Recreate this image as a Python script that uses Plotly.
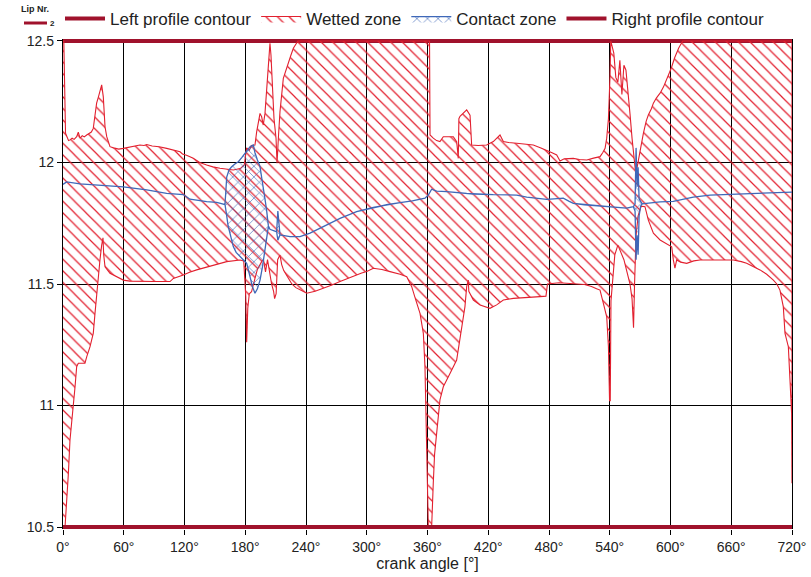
import plotly.graph_objects as go

# ---- crank angle axis ----
tick_deg = [0, 60, 120, 180, 240, 300, 360, 420, 480, 540, 600, 660, 720]
tick_text = [f"{d}°" for d in tick_deg]
y_ticks = [10.5, 11, 11.5, 12, 12.5]
y_tick_text = ["10.5", "11", "11.5", "12", "12.5"]

# ---- profile contours ----
contour_deg = [0, 720]
left_profile = [12.5, 12.5]
right_profile = [10.5, 10.5]

# ---- wetted zone: upper edge ----
wet_top_deg = [
    0, 0.8, 2.5, 3.6, 5.5, 6.9, 9, 11, 13.5, 15.1, 16.8, 19, 21, 23.4, 26, 28, 29.9,
    31.5, 33.2, 35, 36.5, 38.2, 39.8, 40.5, 41.5, 43.2, 46.4, 50, 55, 59.6, 65, 70,
    72.8, 76, 80, 82.7, 88, 95, 102.4, 110, 115.6, 118, 122, 128.7, 135, 141.9, 148,
    155.1, 162, 168.2, 175, 179, 181.4, 184, 186, 189.6, 191.3, 194.6, 196.2, 197.8,
    199.5, 201.2, 203.5, 204.4, 205.4, 206.7, 208.4, 210.4, 211.4, 212.7, 214.3,
    217.6, 220, 222.5, 225, 227.5, 230.8, 232, 362, 362.5, 365.7, 369, 372.3, 375.6,
    385.5, 388.8, 390.4, 391, 392.1, 398.7, 402, 403.6, 410, 418.4, 425, 428, 431.6,
    434.9, 440, 448.1, 456, 464.5, 472, 477.7, 483, 487.6, 489, 490.9, 495, 504, 510,
    517.3, 524, 530.4, 533, 535.4, 537, 538.7, 540.3, 541, 544, 546, 548, 550, 552,
    554, 556, 558, 560, 562, 564, 565.5, 567, 570, 573.2, 576, 578.1, 581, 583.1, 586,
    589.7, 593, 596.3, 599, 601.2, 604, 608, 612, 720,
]
wet_top_val = [
    12.5, 12.5, 12.12, 12.106, 12.09, 12.093, 12.1, 12.095, 12.106, 12.125, 12.1,
    12.11, 12.105, 12.113, 12.12, 12.125, 12.14, 12.2, 12.244, 12.27, 12.29, 12.319,
    12.27, 12.2, 12.147, 12.106, 12.065, 12.06, 12.055, 12.058, 12.062, 12.065, 12.068,
    12.072, 12.07, 12.074, 12.068, 12.065, 12.058, 12.05, 12.044, 12.035, 12.03,
    12.017, 12.0, 11.99, 11.982, 11.976, 11.972, 11.969, 11.975, 11.99, 12.06, 12.05,
    12.07, 12.072, 12.127, 12.202, 12.188, 12.154, 12.202, 12.319, 12.47, 12.49,
    12.442, 12.346, 12.18, 12.1, 11.997, 12.1, 12.209, 12.346, 12.38, 12.415, 12.44,
    12.47, 12.49, 12.5, 12.5, 12.113, 12.1, 12.09, 12.086, 12.106, 12.106, 12.086,
    12.017, 12.18, 12.19, 12.216, 12.195, 12.072, 12.07, 12.072, 12.086, 12.1, 12.113,
    12.086, 12.082, 12.079, 12.075, 12.072, 12.06, 12.051, 12.04, 12.031, 12.02,
    12.006, 12.015, 12.017, 12.012, 12.01, 12.018, 12.024, 12.04, 12.058, 12.1, 12.18,
    12.36, 12.5, 12.45, 12.35, 12.33, 12.42, 12.28, 12.4, 12.38, 12.3, 12.2, 12.1,
    12.0, 11.96, 11.98, 12.05, 12.12, 12.17, 12.195, 12.22, 12.244, 12.265, 12.285,
    12.31, 12.34, 12.37, 12.394, 12.43, 12.47, 12.5, 12.5,
]

# ---- wetted zone: lower edge ----
wet_bot_deg = [
    0, 2, 3.6, 5.3, 6.9, 8.6, 10.2, 11.9, 13.5, 15.1, 21.7, 23.4, 26.7, 29.9, 31.6,
    33.2, 34.9, 36.5, 38.2, 39.5, 40.2, 41.5, 46.4, 52, 56.3, 59.6, 66, 76, 90, 105.7,
    109, 118.8, 125, 132, 140, 148.5, 155, 161.7, 174.8, 178.5, 180.5, 181.4, 182.5,
    184, 186.2, 189.6, 192, 196.2, 198, 200, 202, 204, 206, 208, 209, 210.5, 212,
    214.3, 216, 218, 220.9, 226, 230, 234.1, 240.7, 249, 257.1, 265, 273.6, 285, 295,
    300, 306.5, 315, 323, 333, 339.5, 344.4, 348, 352.6, 355.9, 357.5, 359.2, 359.8,
    360.8, 364.1, 365.7, 367, 369, 372.3, 375.6, 382.2, 388.8, 392.1, 395.4, 397,
    398.7, 400.3, 400.8, 402, 405.3, 411.9, 421.7, 428.3, 434.9, 444.8, 458, 471.1,
    477, 478.5, 490, 505, 515, 522, 527, 530.4, 533.7, 537, 538.7, 539.8, 540.5,
    541.2, 543, 545, 548, 551, 554, 557, 560, 562, 563.5, 564.5, 566, 568, 571, 574.8,
    578.1, 583.1, 589.7, 596, 601.2, 602.8, 604.4, 606.1, 610, 616, 623, 629.1, 640,
    648.9, 662, 670, 675.2, 682, 688.4, 695, 701.6, 705, 708.1, 711.4, 713.1, 716.4,
    718, 719.6, 719.8, 720,
]
wet_bot_val = [
    10.5, 10.5, 10.597, 10.72, 10.858, 10.94, 10.995, 11.077, 11.16, 11.174, 11.174,
    11.2, 11.242, 11.297, 11.379, 11.475, 11.53, 11.599, 11.66, 11.69, 11.62, 11.571,
    11.544, 11.53, 11.523, 11.516, 11.512, 11.51, 11.51, 11.51, 11.523, 11.537,
    11.548, 11.558, 11.568, 11.578, 11.585, 11.592, 11.599, 11.595, 11.45, 11.26,
    11.4, 11.46, 11.468, 11.523, 11.56, 11.592, 11.6, 11.55, 11.6, 11.56, 11.5,
    11.47, 11.44, 11.46, 11.6, 11.619, 11.58, 11.555, 11.537, 11.5, 11.485, 11.475,
    11.462, 11.47, 11.482, 11.495, 11.51, 11.53, 11.545, 11.551, 11.565, 11.56,
    11.551, 11.54, 11.53, 11.489, 11.44, 11.379, 11.297, 11.16, 10.913, 10.748, 10.5,
    10.5, 10.68, 10.8, 10.886, 11.023, 11.077, 11.132, 11.187, 11.27, 11.365, 11.407,
    11.489, 11.516, 11.47, 11.462, 11.434, 11.414, 11.4, 11.414, 11.434, 11.441,
    11.445, 11.448, 11.45, 11.5, 11.505, 11.5, 11.498, 11.49, 11.48, 11.475, 11.42,
    11.365, 11.242, 11.02, 11.02, 11.43, 11.52, 11.62, 11.66, 11.63, 11.6, 11.55,
    11.5, 11.44, 11.32, 11.5, 11.7, 11.78, 11.82, 11.818, 11.763, 11.709, 11.681,
    11.665, 11.653, 11.599, 11.565, 11.599, 11.59, 11.585, 11.595, 11.599, 11.6,
    11.599, 11.599, 11.592, 11.585, 11.572, 11.558, 11.54, 11.516, 11.5, 11.475,
    11.407, 11.297, 11.242, 11.105, 10.968, 10.776, 10.68,
]

# ---- contact zone: centre line where both edges coincide ----
contact_mid_deg = [
    0, 3.6, 16.8, 40, 59.6, 82.7, 102.4, 118.8, 125.4, 141.9, 151.8, 160,
    204.4, 211, 214.3, 224.2, 234.1, 244, 257.1, 273.6, 290, 306.5, 319.7, 332.9,
    345, 357.5, 360.8, 364.1, 369, 378.9, 398.7, 405.3, 425, 448.1, 458, 477.7, 485,
    494.1, 500, 504, 515, 530.4, 540.3, 550.1, 556.7, 563.3,
    572, 576.4, 589.7, 602.8, 612, 622.5, 639, 662, 688.4, 720,
]
contact_mid_val = [
    11.91, 11.92, 11.912, 11.905, 11.9, 11.887, 11.873, 11.868, 11.849, 11.839,
    11.836, 11.827,
    11.725, 11.715, 11.702, 11.695, 11.695, 11.709, 11.736, 11.77, 11.798, 11.815,
    11.826, 11.835, 11.842, 11.853, 11.866, 11.89, 11.882, 11.88, 11.873, 11.87,
    11.868, 11.866, 11.857, 11.848, 11.85, 11.853, 11.84, 11.832, 11.826, 11.82,
    11.818, 11.814, 11.812, 11.818,
    11.83, 11.832, 11.838, 11.84, 11.848, 11.857, 11.866, 11.87, 11.873, 11.878,
]

# ---- contact zone: upper edge where it opens up ----
contact_top_deg = [
    161.7, 164, 166.6, 170, 173.2, 176.5, 179.8, 182, 184.7, 188, 189.6, 192,
    194.6, 196.5, 197.8, 199.5, 201.2, 202.8,
    212.2,
    565, 566, 567, 568, 569, 570.5,
]
contact_top_val = [
    11.94, 11.97, 11.983, 11.995, 12.003, 12.02, 12.038, 12.05, 12.065, 12.072,
    12.04, 12.01, 11.983, 11.93, 11.9, 11.85, 11.8, 11.74,
    11.8,
    11.83, 12.06, 11.9, 11.98, 11.85, 11.84,
]

# ---- contact zone: lower edge where it opens up ----
contact_bot_deg = [
    161.7, 163, 164.9, 168.2, 171, 174.8, 178, 181.4, 184.7, 187, 189.6, 192,
    194.6, 197, 199.5, 201.2, 202.8,
    212.2,
    565, 566, 567, 568, 569, 570.5,
]
contact_bot_val = [
    11.78, 11.74, 11.709, 11.654, 11.63, 11.612, 11.6, 11.585, 11.53, 11.49, 11.462,
    11.48, 11.516, 11.57, 11.626, 11.69, 11.736,
    11.68,
    11.8, 11.6, 11.7, 11.62, 11.78, 11.82,
]

RED = "#e2202f"
BLUE = "#3f68b8"
DARK_RED = "#a0122c"
FONT = "Liberation Sans, Arial, sans-serif"

# plot-area geometry in pixels (used for the corner caption)
L, T, W, H = 63, 39, 729, 490


def merge(deg_a, val_a, deg_b, val_b):
    pts = sorted(zip(deg_a + deg_b, val_a + val_b), key=lambda p: p[0])
    return [p[0] for p in pts], [p[1] for p in pts]


def band(top_deg, top_val, bot_deg, bot_val):
    # closed outline: upper edge left->right, lower edge right->left
    return top_deg + bot_deg[::-1], top_val + bot_val[::-1]


def px(x):
    return (x - L) / W


def py(y):
    return (T + H - y) / H


wet_x, wet_y = band(wet_top_deg, wet_top_val, wet_bot_deg, wet_bot_val)
c_top_x, c_top_y = merge(contact_mid_deg, contact_mid_val, contact_top_deg, contact_top_val)
c_bot_x, c_bot_y = merge(contact_mid_deg, contact_mid_val, contact_bot_deg, contact_bot_val)
contact_x, contact_y = band(c_top_x, c_top_y, c_bot_x, c_bot_y)

fig = go.Figure()

fig.add_trace(go.Scatter(
    x=contour_deg, y=left_profile, mode="lines", name="Left profile contour",
    line=dict(color=DARK_RED, width=4),
))
fig.add_trace(go.Scatter(
    x=wet_x, y=wet_y, mode="lines", name="Wetted zone",
    fill="toself", fillcolor="rgba(0,0,0,0)",
    fillpattern=dict(shape="\\", fgcolor=RED, bgcolor="rgba(0,0,0,0)",
                     size=8.2, solidity=0.15, fillmode="replace"),
    line=dict(color=RED, width=1.1),
))
fig.add_trace(go.Scatter(
    x=contact_x, y=contact_y, mode="lines", name="Contact zone",
    fill="toself", fillcolor="rgba(0,0,0,0)",
    fillpattern=dict(shape="x", fgcolor=BLUE, bgcolor="rgba(0,0,0,0)",
                     size=7.5, solidity=0.16, fillmode="replace"),
    line=dict(color=BLUE, width=1.3),
))
fig.add_trace(go.Scatter(
    x=contour_deg, y=right_profile, mode="lines", name="Right profile contour",
    line=dict(color=DARK_RED, width=4),
))

# small series caption in the top-left corner
fig.add_annotation(text="<b>Lip Nr.</b>", x=px(35), y=py(9),
                   xref="paper", yref="paper", xanchor="center", yanchor="middle",
                   showarrow=False, font=dict(family=FONT, size=9, color="#222"))
fig.add_annotation(text="<b>2</b>", x=px(52), y=py(23),
                   xref="paper", yref="paper", xanchor="center", yanchor="middle",
                   showarrow=False, font=dict(family=FONT, size=8, color="#222"))
fig.add_shape(type="line", xref="paper", yref="paper",
              x0=px(24), x1=px(47), y0=py(23), y1=py(23),
              line=dict(color=DARK_RED, width=3))

fig.update_layout(
    width=811, height=577,
    margin=dict(l=L, r=811 - L - W, t=T, b=577 - T - H, autoexpand=False),
    paper_bgcolor="white", plot_bgcolor="white",
    font=dict(family=FONT, color="#222"),
    showlegend=True,
    legend=dict(orientation="h", xref="container", yref="container",
                x=60 / 811, y=1 - 19 / 577, xanchor="left", yanchor="middle",
                font=dict(family=FONT, size=17, color="#222"),
                itemwidth=40, tracegroupgap=0, bgcolor="rgba(0,0,0,0)"),
    xaxis=dict(range=[0, 720], tickvals=tick_deg, ticktext=tick_text,
               showgrid=True, gridcolor="black", gridwidth=1.4,
               zeroline=False, showline=False, automargin=False,
               ticks="outside", ticklen=5, tickcolor="black",
               tickfont=dict(family=FONT, size=14, color="#222"),
               title=dict(text="crank angle [°]", standoff=4,
                          font=dict(family=FONT, size=16, color="#222"))),
    yaxis=dict(range=[10.492, 12.508], tickvals=y_ticks, ticktext=y_tick_text,
               showgrid=True, gridcolor="black", gridwidth=1.4,
               zeroline=False, showline=True, mirror=True, linecolor="black",
               linewidth=1.4, automargin=False,
               ticks="outside", ticklen=5, tickcolor="black",
               tickfont=dict(family=FONT, size=14, color="#222")),
)

fig.write_html("out.html")
